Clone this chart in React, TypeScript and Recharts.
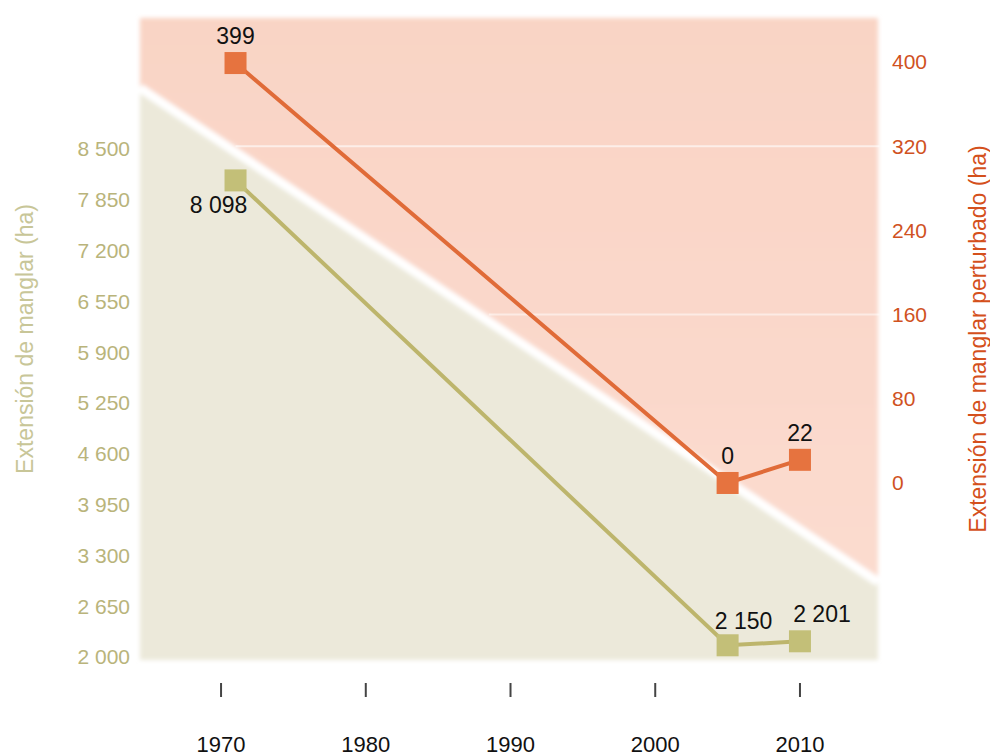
import React from 'react';
import { LineChart, Line, XAxis, YAxis, LabelList, ReferenceLine } from 'recharts';

const years = [1971, 2005, 2010];
const extension = [8098, 2150, 2201];
const disturbed = [399, 0, 22];
const xTicks = [1970, 1980, 1990, 2000, 2010];
const leftTicks = [2000, 2650, 3300, 3950, 4600, 5250, 5900, 6550, 7200, 7850, 8500];
const rightTicks = [0, 80, 160, 240, 320, 400];

const data = years.map((year, i) => ({ year, extension: extension[i], disturbed: disturbed[i] }));

const FONT = '"Liberation Sans Narrow", "Liberation Sans", Arial, sans-serif';
const GREEN = '#bdb56c';
const GREEN_DOT = '#c3bf78';
const ORANGE = '#e06b38';
const ORANGE_DOT = '#e6733f';

const fmt = (n: number) => n.toString().replace(/\B(?=(\d{3})+(?!\d))/g, ' ');

const squareDot = (fill: string) => (props: any) => {
  const { cx, cy, index } = props;
  return <rect key={`sq-${index}`} x={cx - 11} y={cy - 11} width={22} height={22} fill={fill} />;
};

// label placement differs per point, as in the original
const greenLabel = (props: any) => {
  const { x, y, value, index } = props;
  const dx = index === 0 ? -17 : index === 1 ? 16 : 22;
  const dy = index === 0 ? 33 : index === 1 ? -16 : -19;
  return (
    <text x={x + dx} y={y + dy} textAnchor="middle" fontSize={23} fontFamily={FONT} fill="#111">
      {fmt(value)}
    </text>
  );
};

const orangeLabel = (props: any) => {
  const { x, y, value } = props;
  return (
    <text x={x} y={y - 19} textAnchor="middle" fontSize={23} fontFamily={FONT} fill="#111">
      {fmt(value)}
    </text>
  );
};

const XTick = (props: any) => {
  const { x, y, payload } = props;
  return (
    <g>
      <line x1={x} x2={x} y1={y + 23} y2={y + 37} stroke="#444" strokeWidth={2} />
      <text x={x} y={y + 92} textAnchor="middle" fontSize={22} fontFamily={FONT} fill="#111">
        {payload.value}
      </text>
    </g>
  );
};

const Background = () => (
  <svg width={990} height={756} style={{ position: 'absolute', left: 0, top: 0 }}>
    <defs>
      <filter id="soft" x="-5%" y="-5%" width="110%" height="110%">
        <feGaussianBlur stdDeviation="2" />
      </filter>
      <linearGradient id="pink" x1="0" y1="0" x2="0" y2="1">
        <stop offset="0" stopColor="#f9d4c5" />
        <stop offset="1" stopColor="#fbdbcf" />
      </linearGradient>
    </defs>
    <g filter="url(#soft)">
      <polygon points="140,18 878,18 878,580 140,86" fill="url(#pink)" />
      <polygon points="140,86 878,580 878,660 140,660" fill="#ece9da" />
      <line x1={140} y1={88} x2={878} y2={582} stroke="#fff" strokeWidth={9} />
    </g>
  </svg>
);

export default function App() {
  return (
    <div style={{ position: 'absolute', left: 0, top: 0, width: 990, height: 756, background: '#fff' }}>
      <Background />
      <div style={{ position: 'absolute', left: 0, top: 0 }}>
        <LineChart width={990} height={756} data={data} margin={{ top: 18, right: 0, bottom: 0, left: 0 }}>
          <XAxis
            dataKey="year"
            type="number"
            domain={[1964.4, 2015.53]}
            ticks={xTicks}
            height={96}
            axisLine={false}
            tickLine={false}
            tickSize={0}
            tickMargin={0}
            tick={<XTick />}
            interval={0}
          />
          <YAxis
            yAxisId="left"
            orientation="left"
            width={140}
            domain={[1961.6, 10176]}
            ticks={leftTicks}
            interval={0}
            axisLine={false}
            tickLine={false}
            tickSize={0}
            tickMargin={10}
            tickFormatter={fmt}
            tick={{ fill: '#b9b47b', fontSize: 21, fontFamily: FONT }}
            label={{
              value: 'Extensión de manglar (ha)',
              angle: -90,
              position: 'center',
              dx: -45,
              style: { fill: '#c8c698', fontSize: 23, fontFamily: FONT, textAnchor: 'middle' },
            }}
          />
          <YAxis
            yAxisId="right"
            orientation="right"
            width={110}
            domain={[-168.2, 441.8]}
            ticks={rightTicks}
            interval={0}
            axisLine={false}
            tickLine={false}
            tickSize={0}
            tickMargin={12}
            tick={{ fill: '#d0521f', fontSize: 21, fontFamily: FONT, textAnchor: 'start' }}
            label={{
              value: 'Extensión de manglar perturbado (ha)',
              angle: -90,
              position: 'center',
              dx: 43,
              style: { fill: '#d4501c', fontSize: 23, fontFamily: FONT, textAnchor: 'middle' },
            }}
          />
          <ReferenceLine
            yAxisId="right"
            segment={[{ x: 1971, y: 320 }, { x: 2015.5, y: 320 }]}
            stroke="#fff"
            strokeOpacity={0.6}
            strokeWidth={2}
          />
          <ReferenceLine
            yAxisId="right"
            segment={[{ x: 1988.5, y: 160 }, { x: 2015.5, y: 160 }]}
            stroke="#fff"
            strokeOpacity={0.5}
            strokeWidth={2}
          />
          <Line
            yAxisId="left"
            dataKey="extension"
            stroke={GREEN}
            strokeWidth={4}
            dot={squareDot(GREEN_DOT)}
            activeDot={false}
            isAnimationActive={false}
          >
            <LabelList dataKey="extension" content={greenLabel} />
          </Line>
          <Line
            yAxisId="right"
            dataKey="disturbed"
            stroke={ORANGE}
            strokeWidth={4}
            dot={squareDot(ORANGE_DOT)}
            activeDot={false}
            isAnimationActive={false}
          >
            <LabelList dataKey="disturbed" content={orangeLabel} />
          </Line>
        </LineChart>
      </div>
    </div>
  );
}
